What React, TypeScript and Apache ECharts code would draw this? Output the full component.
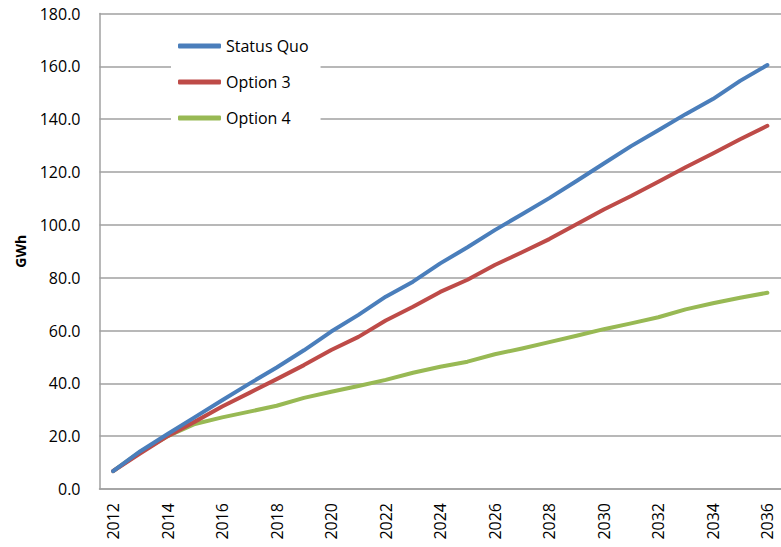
import React, { useEffect, useRef } from "react";
import * as echarts from "echarts";

const years = [
  "2012", "2013", "2014", "2015", "2016", "2017", "2018", "2019", "2020",
  "2021", "2022", "2023", "2024", "2025", "2026", "2027", "2028", "2029",
  "2030", "2031", "2032", "2033", "2034", "2035", "2036",
];

const statusQuo = [
  6.8, 14.3, 20.8, 27.2, 33.6, 39.9, 46.0, 52.5, 59.6, 65.9, 72.8, 78.5,
  85.4, 91.5, 98.0, 104.0, 110.1, 116.6, 123.2, 129.8, 135.8, 141.9, 147.6,
  154.5, 160.5,
];

const option3 = [
  6.8, 13.5, 20.0, 25.5, 31.2, 36.4, 41.6, 46.9, 52.6, 57.6, 63.8, 69.0,
  74.6, 79.2, 84.8, 89.6, 94.6, 100.2, 105.8, 110.9, 116.3, 121.8, 127.0,
  132.4, 137.5,
];

const option4 = [
  6.8, 14.1, 20.0, 24.6, 27.1, 29.3, 31.5, 34.5, 36.8, 39.0, 41.3, 44.0,
  46.3, 48.2, 51.0, 53.2, 55.6, 58.0, 60.5, 62.7, 65.0, 68.0, 70.3, 72.4,
  74.3,
];

const seriesNames = ["Status Quo", "Option 3", "Option 4"];
const seriesColors = ["#4a7ebb", "#be4b48", "#98b954"];

const FONT = "'Open Sans', 'Noto Sans', sans-serif";

export default function App() {
  const ref = useRef<HTMLDivElement>(null);

  useEffect(() => {
    if (!ref.current) return;
    const chart = echarts.init(ref.current, null, { renderer: "svg" });
    const data = [statusQuo, option3, option4];
    chart.setOption({
      animation: false,
      backgroundColor: "#ffffff",
      textStyle: { fontFamily: FONT },
      grid: { left: 99.5, top: 13.5, right: -7, bottom: 58, containLabel: false },
      legend: {
        orient: "vertical",
        left: 171,
        top: 27,
        padding: [9, 12, 9, 7],
        backgroundColor: "#ffffff",
        itemWidth: 43,
        itemHeight: 5,
        itemGap: 16,
        icon: "roundRect",
        data: seriesNames,
        textStyle: { fontFamily: FONT, fontSize: 16, color: "#000", lineHeight: 20 },
      },
      xAxis: {
        type: "category",
        data: years,
        boundaryGap: true,
        axisLine: { show: true, lineStyle: { color: "#a0a0a0", width: 1.5 } },
        axisTick: { show: false },
        axisLabel: {
          interval: 1,
          rotate: 90,
          margin: 14,
          fontFamily: FONT,
          fontSize: 16,
          color: "#000",
        },
        splitLine: { show: false },
      },
      yAxis: {
        type: "value",
        min: 0,
        max: 180,
        interval: 20,
        name: "GWh",
        nameLocation: "middle",
        nameRotate: 90,
        nameGap: 72,
        nameTextStyle: { fontFamily: FONT, fontSize: 14, fontWeight: "bold", color: "#000" },
        axisLine: { show: true, lineStyle: { color: "#a0a0a0", width: 1.5 } },
        axisTick: { show: false },
        axisLabel: {
          margin: 19,
          fontFamily: FONT,
          fontSize: 16,
          color: "#000",
          formatter: (v: number) => v.toFixed(1),
        },
        splitLine: { show: true, lineStyle: { color: "#a0a0a0", width: 1.5 } },
      },
      series: seriesNames.map((name, i) => ({
        name,
        type: "line",
        data: data[i],
        symbol: "none",
        smooth: false,
        z: 3 - i + 2,
        itemStyle: { color: seriesColors[i] },
        lineStyle: { color: seriesColors[i], width: 4, cap: "round", join: "round" },
      })),
    });
    return () => chart.dispose();
  }, []);

  return (
    <div
      ref={ref}
      style={{ position: "fixed", left: 0, top: 0, width: 781, height: 547 }}
    />
  );
}
